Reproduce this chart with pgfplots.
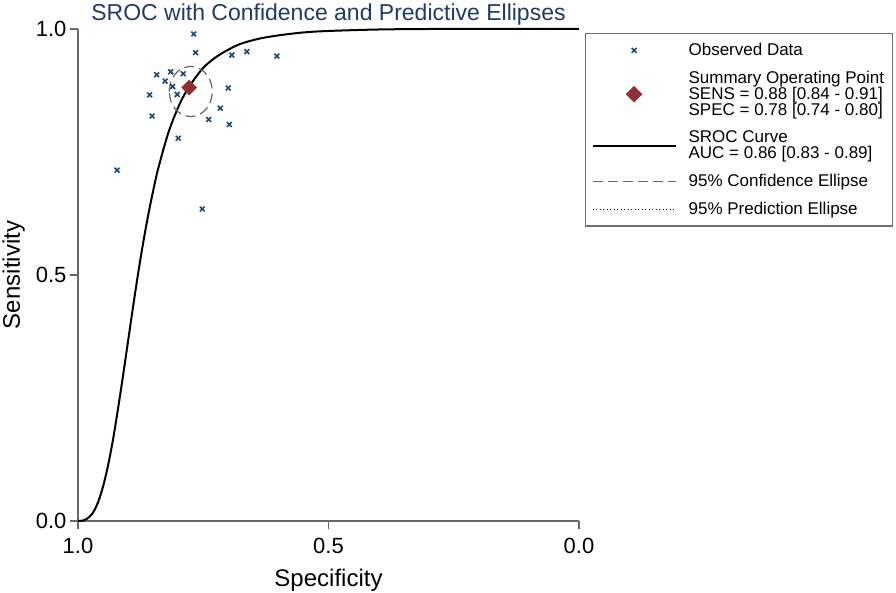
\documentclass[border=0pt]{standalone}
\usepackage{fontspec}
\setmainfont{Liberation Sans}
\usepackage{pgfplots}
\pgfplotsset{compat=1.18}
\usetikzlibrary{calc}
\definecolor{markblue}{HTML}{1A4A7A}
\definecolor{diamondred}{HTML}{8E3136}
\definecolor{titleblue}{HTML}{1F3A68}
\definecolor{axisgray}{HTML}{666666}
\definecolor{boxgray}{HTML}{707070}

\begin{document}
\begin{tikzpicture}
\begin{axis}[
  scale only axis,
  width=501bp, height=492bp,
  x dir=reverse,
  xmin=0, xmax=1, ymin=0, ymax=1,
  axis x line*=bottom, axis y line*=left,
  axis line style={draw=axisgray, line width=1.2bp, -},
  tick style={draw=axisgray, line width=1.2bp},
  tick align=outside, major tick length=8bp,
  xtick={0,0.5,1}, ytick={0,0.5,1},
  minor tick num=0,
  ticklabel style={font=\fontsize{22bp}{26bp}\selectfont},
  /pgf/number format/.cd, fixed, fixed zerofill, precision=1, assume math mode=true,
  /pgfplots/.cd,
  xticklabel style={yshift=-6bp},
  xlabel={Specificity}, ylabel={Sensitivity},
  label style={font=\fontsize{24bp}{28bp}\selectfont},
  xlabel style={at={(axis description cs:0.5,-0.134)}, anchor=base},
  ylabel style={at={(axis description cs:-0.116,0.5)}, anchor=base},
  title={SROC with Confidence and Predictive Ellipses},
  title style={at={(axis description cs:0.5,1.018)}, anchor=base, yshift=-6pt,
    font=\fontsize{23bp}{27bp}\selectfont, text=titleblue},
  clip=false,
  legend image code/.code={\draw[mark repeat=2,mark phase=2,#1]
    plot coordinates {(0bp,0bp) (41.5bp,0bp) (83bp,0bp)};},
  legend cell align=left,
  legend style={at={(axis description cs:1.012,0.992)}, anchor=north west,
    draw=boxgray, line width=1.2bp, inner xsep=6bp, inner ysep=8bp,
    row sep=10bp, column sep=10bp,
    font=\fontsize{17bp}{16bp}\selectfont,
    cells={align=left}},
]
% observed studies (specificity, sensitivity)
\addplot[only marks, mark=x, mark size=3.4bp, draw=markblue, line width=1.6bp]
coordinates {
  (0.769,0.990) (0.765,0.952) (0.693,0.947) (0.663,0.954) (0.603,0.945)
  (0.843,0.907) (0.815,0.913) (0.790,0.909) (0.826,0.894) (0.811,0.883)
  (0.857,0.866) (0.802,0.867) (0.700,0.880) (0.716,0.839) (0.852,0.823)
  (0.739,0.816) (0.698,0.806) (0.800,0.778) (0.922,0.713) (0.752,0.634)
};
\addlegendentry{Observed Data}
\addplot[only marks, mark=square*, mark size=5.3bp,
  mark options={rotate=45, fill=diamondred, draw=diamondred}]
coordinates {(0.778,0.881)};
\addlegendentry{Summary Operating Point\\SENS = 0.88 [0.84 - 0.91]\\SPEC = 0.78 [0.74 - 0.80]}
% SROC curve
\addplot[black, line width=2bp, smooth] coordinates {
  (1.00,0.000) (0.99,0.001) (0.98,0.006) (0.97,0.017) (0.96,0.038)
  (0.95,0.070) (0.94,0.113) (0.93,0.166) (0.92,0.229) (0.91,0.296)
  (0.90,0.366) (0.89,0.436) (0.88,0.503) (0.87,0.565) (0.86,0.621)
  (0.85,0.671) (0.84,0.716) (0.82,0.788) (0.80,0.841) (0.78,0.880)
  (0.75,0.921) (0.72,0.946) (0.68,0.968) (0.64,0.980) (0.60,0.987)
  (0.55,0.993) (0.50,0.996) (0.40,0.999) (0.30,1.000) (0.20,1.000)
  (0.10,1.000) (0.00,1.000)
};
\addlegendentry{SROC Curve\\AUC = 0.86 [0.83 - 0.89]}
% 95% confidence ellipse
\addplot[draw=axisgray, line width=1.2bp, dash pattern=on 10bp off 5bp, smooth]
coordinates {
  (0.8180,0.8730) (0.8147,0.8925) (0.8054,0.9091) (0.7915,0.9201)
  (0.7750,0.9240) (0.7585,0.9201) (0.7446,0.9091) (0.7353,0.8925)
  (0.7320,0.8730) (0.7353,0.8535) (0.7446,0.8369) (0.7585,0.8259)
  (0.7750,0.8220) (0.7915,0.8259) (0.8054,0.8369) (0.8147,0.8535)
  (0.8180,0.8730)
};
\addlegendentry{95\% Confidence Ellipse}
\addlegendimage{black, line width=1bp, dash pattern=on 1bp off 2.5bp}
\addlegendentry{95\% Prediction Ellipse}
\coordinate (O) at (axis description cs:0,0);
\end{axis}
\pgfresetboundingbox
\useasboundingbox ($(O)+(-78bp,-72bp)$) rectangle ($(O)+(818bp,521bp)$);
\end{tikzpicture}
\end{document}
